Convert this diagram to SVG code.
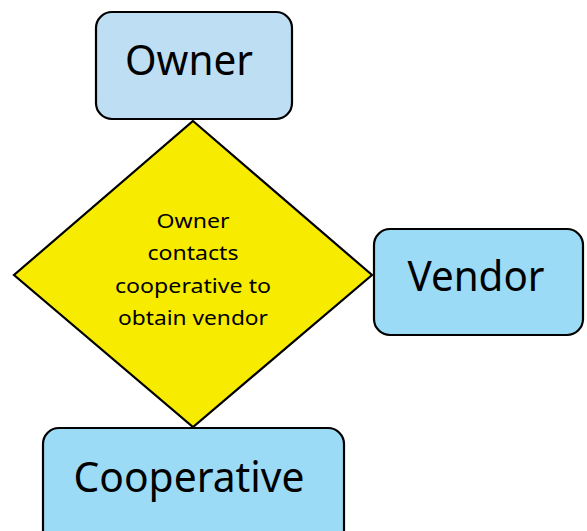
<svg xmlns="http://www.w3.org/2000/svg" width="587" height="531" viewBox="0 0 587 531">
<style>
.box{stroke:#000;stroke-width:2.2}
.t{font-family:"Noto Sans","Open Sans",sans-serif;fill:#000;text-anchor:middle}
.big{font-size:41px}
.small{font-size:19.5px}
</style>
<rect width="587" height="531" fill="#fff"/>
<g id="connectors"></g>
<g id="decision">
<polygon points="193,121 372,275 193,427 14,275" fill="#F7EC00" stroke="#000" stroke-width="2.2"/>
<text class="t small" x="193" y="228" textLength="73" lengthAdjust="spacingAndGlyphs">Owner</text>
<text class="t small" x="193" y="260" textLength="91" lengthAdjust="spacingAndGlyphs">contacts</text>
<text class="t small" x="193" y="293" textLength="156" lengthAdjust="spacingAndGlyphs">cooperative to</text>
<text class="t small" x="193" y="325" textLength="150" lengthAdjust="spacingAndGlyphs">obtain vendor</text>
</g>
<g id="owner">
<rect class="box" x="96" y="12" width="196" height="107" rx="16" fill="#BDDEF3"/>
<text class="t big" x="189" y="75" textLength="128" lengthAdjust="spacingAndGlyphs">Owner</text>
</g>
<g id="vendor">
<rect class="box" x="374" y="229" width="209" height="106" rx="16" fill="#9CDBF6"/>
<text class="t big" x="476" y="291" textLength="137" lengthAdjust="spacingAndGlyphs">Vendor</text>
</g>
<g id="cooperative">
<rect class="box" x="43" y="428" width="301" height="120" rx="16" fill="#9CDBF6"/>
<text class="t big" x="189" y="492" textLength="231" lengthAdjust="spacingAndGlyphs">Cooperative</text>
</g>
</svg>
